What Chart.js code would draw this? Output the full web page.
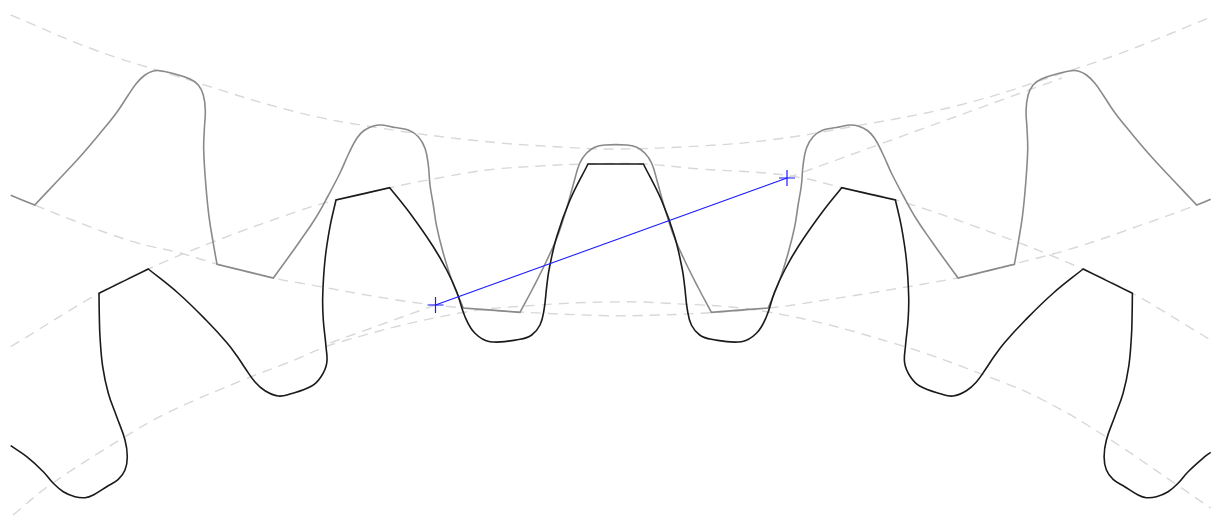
<!DOCTYPE html>
<html>
<head>
<meta charset="utf-8">
<title>Gear mesh</title>
<script src="https://cdn.jsdelivr.net/npm/chart.js@4"></script>
<style>
  html, body { margin: 0; padding: 0; background: #fff; }
  canvas { display: block; }
</style>
</head>
<body>
<canvas id="chart" width="1211" height="516"></canvas>
<script>
// Outlines as [x, y]. A repeated point keeps a sharp corner in the spline.
const greyGear = [
  [10.7,195.3],[34.7,205],[34.7,205],[56.7,181.7],[80,156.7],[100,133.3],[116.7,112.5],[128.3,95],[136.7,83],[145,75],
  [153.3,71],[160,70.7],[170,72.7],[190,79],[198.3,85],[203.3,95],[205.3,110],[204.3,130],[203.7,150],[205.7,183.3],
  [209,216.7],[213.3,243.3],[217,264.3],[217,264.3],[273.3,278],[273.3,278],[285,262],[300,241],[315,219],[328,196],
  [340,173],[349,153],[357,138],[364,130.5],[373.3,126],[381.7,125],[395,127.5],[408.3,130],[418.3,136.7],[425,148.3],
  [428.3,165],[430,185],[433.3,205],[436.7,226.7],[443.3,253.3],[451.7,280],[463.3,308],[463.3,308],[520,312.3],[520,312.3],
  [533,288],[547,260],[558,235],[567,207],[574,182],[579.7,163.3],[586.4,153.3],[594.7,147.3],[604.7,145],[626.7,145],
  [636.7,147.3],[645,153.3],[651.7,163.3],[657.4,182],[664.4,207],[673.4,235],[684.4,260],[698.4,288],[711.4,312.3],
  [711.4,312.3],[768.1,308],[768.1,308],[779.7,280],[788.1,253.3],[794.7,226.7],[798.1,205],[801.4,185],[803.1,165],
  [806.4,148.3],[813.1,136.7],[823.1,130],[836.4,127.5],[849.7,125],[858.1,126],[867.4,130.5],[874.4,138],[882.4,153],
  [891.4,173],[903.4,196],[916.4,219],[931.4,241],[946.4,262],[958.1,278],[958.1,278],[1014.4,264.3],[1014.4,264.3],
  [1018.1,243.3],[1022.4,216.7],[1025.7,183.3],[1027.7,150],[1027.1,130],[1026.1,110],[1028.1,95],[1033.1,85],[1041.4,79],
  [1061.4,72.7],[1071.4,70.7],[1078.1,71],[1086.4,75],[1094.7,83],[1103.1,95],[1114.7,112.5],[1131.4,133.3],[1151.4,156.7],
  [1174.7,181.7],[1196.7,205],[1196.7,205],[1210.7,199.3]
];
const blackGear = [
  [10.7,445.7],[26.7,456.7],[43.3,471.7],[53.3,483.3],[63.3,491.7],[75,496.7],[85,497.7],[93.3,495],[106.7,486.7],
  [118.3,479.3],[125,470],[127.3,456.7],[125,440],[116.7,416.7],[108.3,393.3],[102.7,366.7],[100,336.7],[99.3,315],[99,293.3],
  [99,293.3],[148.3,269],[148.3,269],[178,293],[206,320],[226.7,342.5],[237,356],[245,368],[255,382],[265,390.7],[278.3,396],
  [290,394],[311.7,386],[321,376.7],[326.7,363.3],[326,346.7],[323.3,320],[322.7,296.7],[325,260],[330,226.7],[336,200],[336,200],
  [389.7,187.7],[389.7,187.7],[410,213.3],[433.3,246.7],[446.7,270],[456.7,291.7],[465,316.7],[475,333.3],[490,341.7],
  [520,339.3],[531.7,335],[540,325],[544,310],[546.7,286.7],[549,270],[556.7,236.7],[570,200],[588,164],[588,164],
  [643.4,164],[643.4,164],[661.4,200],[674.7,236.7],[682.4,270],[684.7,286.7],[687.4,310],[691.4,325],[699.7,335],
  [711.4,339.3],[741.4,341.7],[756.4,333.3],[766.4,316.7],[774.7,291.7],[784.7,270],[798.1,246.7],[821.4,213.3],[841.7,187.7],
  [841.7,187.7],[895.4,200],[895.4,200],[901.4,226.7],[906.4,260],[908.7,296.7],[908.1,320],[905.4,346.7],[904.7,363.3],
  [910.4,376.7],[919.7,386],[941.4,394],[953.1,396],[966.4,390.7],[976.4,382],[986.4,368],[994.4,356],[1004.7,342.5],
  [1025.4,320],[1053.4,293],[1083.1,269],[1083.1,269],[1132.4,293.3],[1132.4,293.3],[1132.1,315],[1131.4,336.7],[1128.7,366.7],
  [1123.1,393.3],[1114.7,416.7],[1106.4,440],[1104.1,456.7],[1106.4,470],[1113.1,479.3],[1124.7,486.7],[1138.1,495],
  [1146.4,497.7],[1156.4,496.7],[1168.1,491.7],[1178.1,483.3],[1188.1,471.7],[1204.7,456.7],[1210.7,452.3]
];

// Dashed circles and the extended line, same coordinates
const greyTipCircle = [[10.7,15],[95,50],[170,74],[295,111.7],[380,128],[480,141],[560,147],[615,149],[700,146],[770,140],[850,127],[960,105],[1072,70],[1137,47],[1210.7,17]];
const greyRootCircle = [[34.7,205],[76.7,221.7],[133,241.7],[180,253],[217,264],[273,278],[300,283],[397,300],[463,308],[520,312],[600,315.5],[640,315.5],[711,312.7],[768,308],[800,304],[958.7,277.7],[1014,264],[1077,247],[1147,223],[1197,205]];
const blackTipCircle = [[10.7,346.7],[99,293.3],[148.3,269],[213,242],[300,210.5],[336,200],[389.7,187.7],[428,180],[487,170],[540,166],[588,164],[643,164],[700,169],[765,173],[803,178],[841.7,187.7],[896,200],[993,233],[1083,269],[1132,293],[1210.7,340]];
const blackRootCircle = [[13,515],[50,485],[123,438],[167,413],[243,380],[287,363],[340,342],[460,313],[540,305],[607,302],[663,303],[768,312],[893,343],[997,380],[1043,400],[1103,435],[1210.7,508]];
const lineOfActionLeft = [[435.5,305],[327,344]];
const lineOfActionRight = [[787,178],[1062,78]];

// Blue contact segment and its end marks
const contactPoints = [[435.5,305],[787,178]];

const DASH = [10, 7];

function toXY(points) {
  return points.map(([x, y]) => ({ x, y }));
}

function dashed(points, tension = 0.4) {
  return {
    data: toXY(points),
    showLine: true,
    borderColor: "#d8d8d8",
    borderWidth: 1.4,
    borderDash: DASH,
    tension,
    pointRadius: 0,
  };
}

function outline(points, color) {
  return {
    data: toXY(points),
    showLine: true,
    borderColor: color,
    borderWidth: 1.6,
    tension: 0.4,
    pointRadius: 0,
  };
}

// Chart.js paints the first dataset last, so the marks on top come first
new Chart(document.getElementById("chart"), {
  type: "scatter",
  data: {
    datasets: [
      {
        data: toXY(contactPoints),
        showLine: true,
        borderColor: "#1c1cff",
        borderWidth: 1.2,
        pointStyle: "cross",
        pointRadius: 8,
        pointBorderWidth: 1.2,
        pointBorderColor: "#1c1cff",
      },
      outline(blackGear, "#1a1a1a"),
      outline(greyGear, "#8a8a8a"),
      dashed(lineOfActionRight, 0),
      dashed(lineOfActionLeft, 0),
      dashed(blackRootCircle),
      dashed(blackTipCircle),
      dashed(greyRootCircle),
      dashed(greyTipCircle),
    ],
  },
  options: {
    responsive: false,
    animation: false,
    layout: { padding: 0, autoPadding: false },
    scales: {
      x: { type: "linear", min: 0, max: 1211, display: false },
      y: { type: "linear", min: 0, max: 516, reverse: true, display: false },
    },
    plugins: {
      legend: { display: false },
      tooltip: { enabled: false },
    },
  },
});
</script>
</body>
</html>
